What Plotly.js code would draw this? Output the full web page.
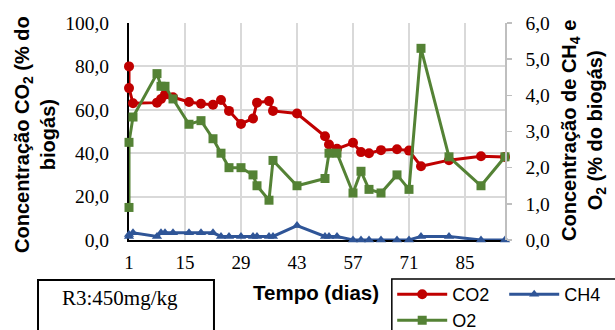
<!DOCTYPE html>
<html><head><meta charset="utf-8">
<script src="https://cdn.plot.ly/plotly-3.0.1.min.js"></script>
<style>html,body{margin:0;padding:0;background:#fff}#chart{width:615px;height:330px}</style>
</head><body><div id="chart"></div>
<script>
const days = [1, 1, 2, 8, 9, 10, 12, 16, 19, 22, 24, 26, 29, 32, 33, 36, 37, 43, 50, 51, 53, 57, 59, 61, 64, 68, 71, 74, 81, 89, 95];
const co2 = [80, 70, 63, 63.3, 65, 67, 65.8, 63.6, 62.8, 62.3, 64.5, 59.5, 53.5, 56, 63.3, 64, 59.5, 58.3, 47.8, 44, 42, 44.8, 40.5, 40, 41.4, 41.8, 41.2, 34, 36.8, 38.6, 38.3];
const ch4 = [0.1, 0.15, 0.2, 0.1, 0.2, 0.2, 0.2, 0.2, 0.2, 0.2, 0.1, 0.1, 0.1, 0.1, 0.1, 0.1, 0.1, 0.4, 0.1, 0.1, 0.1, 0, 0, 0, 0, 0, 0, 0.1, 0.1, 0, 0];
const o2 = [0.9, 2.7, 3.4, 4.6, 4.25, 4.25, 3.9, 3.2, 3.3, 2.8, 2.4, 2.0, 2.0, 1.8, 1.5, 1.1, 2.2, 1.5, 1.7, 2.4, 2.4, 1.3, 1.9, 1.4, 1.3, 1.8, 1.4, 5.3, 2.3, 1.5, 2.3];
const xTicks = [1, 15, 29, 43, 57, 71, 85];

const red = '#c00000', blue = '#2f5597', green = '#548235';
const serif = 'Liberation Serif, Times New Roman, serif';
const sans = 'Liberation Sans, Arial, sans-serif';

const traces = [
  {x: days, y: co2, name: 'CO2', mode: 'lines+markers', yaxis: 'y', legend: 'legend',
   line: {color: red, width: 3}, marker: {symbol: 'circle', size: 10, color: red}, cliponaxis: false},
  {x: days, y: ch4, name: 'CH4', mode: 'lines+markers', yaxis: 'y2', legend: 'legend',
   line: {color: blue, width: 3}, marker: {symbol: 'triangle-up', size: 9, color: blue}, cliponaxis: false},
  {x: days, y: o2, name: 'O2', mode: 'lines+markers', yaxis: 'y2', legend: 'legend2',
   line: {color: green, width: 3}, marker: {symbol: 'square', size: 9, color: green}, cliponaxis: false}
];

const layout = {
  width: 615, height: 330,
  margin: {l: 129, r: 110, t: 23, b: 90, autoexpand: false},
  paper_bgcolor: '#fff', plot_bgcolor: '#fff',
  separators: ', ',
  showlegend: true,
  xaxis: {
    range: [1, 95], tickmode: 'array', tickvals: xTicks, ticktext: xTicks.map(String),
    showgrid: true, gridcolor: '#d9d9d9', gridwidth: 2,
    showline: true, linecolor: '#000', linewidth: 2, ticks: '', zeroline: false,
    tickfont: {family: serif, size: 19, color: '#000'}, ticklabelstandoff: 4, layer: 'below traces'
  },
  yaxis: {
    range: [0, 100], dtick: 20, tickformat: '.1f',
    showgrid: true, gridcolor: '#d9d9d9', gridwidth: 2,
    showline: true, linecolor: '#000', linewidth: 2, ticks: '', zeroline: false,
    tickfont: {family: serif, size: 19.5, color: '#000'}, ticklabelstandoff: 14, layer: 'below traces'
  },
  yaxis2: {
    overlaying: 'y', side: 'right', range: [0, 6], dtick: 1, tickformat: '.1f',
    showgrid: false, showline: true, linecolor: '#bfbfbf', linewidth: 1.5,
    ticks: 'outside', ticklen: 5, tickcolor: '#bfbfbf', tickwidth: 1.5, zeroline: false,
    tickfont: {family: serif, size: 19.5, color: '#000'}, ticklabelstandoff: 10
  },
  legend: {orientation: 'h', x: 0.70, xanchor: 'left', y: -0.166, yanchor: 'top',
    bgcolor: 'rgba(0,0,0,0)', borderwidth: 0, itemwidth: 50, entrywidth: 47, entrywidthmode: 'pixels',
    font: {family: sans, size: 18, color: '#000'}, itemclick: false},
  legend2: {orientation: 'h', x: 0.70, xanchor: 'left', y: -0.286, yanchor: 'top',
    bgcolor: 'rgba(0,0,0,0)', borderwidth: 0, itemwidth: 50,
    font: {family: sans, size: 18, color: '#000'}, itemclick: false},
  shapes: [
    {type: 'rect', xref: 'paper', yref: 'paper', x0: 0.699, x1: 1.4, y0: -0.18, y1: -0.6,
     line: {color: '#000', width: 1.5}, fillcolor: 'rgba(0,0,0,0)'},
    {type: 'rect', xref: 'paper', yref: 'paper', x0: -0.242, x1: 0.226, y0: -0.184, y1: -0.6,
     line: {color: '#000', width: 2}, fillcolor: 'rgba(0,0,0,0)'}
  ],
  annotations: [
    {text: '<b>Concentração CO<sub>2</sub> (% do<br>biogás)</b>', textangle: -90,
     xref: 'paper', yref: 'paper', x: -0.25, y: 0.484, xanchor: 'center', yanchor: 'middle',
     showarrow: false, font: {family: sans, size: 20, color: '#000'}},
    {text: '<b>Concentração de CH<sub>4</sub> e<br>O<sub>2</sub> (% do biogás)</b>', textangle: -90,
     xref: 'paper', yref: 'paper', x: 1.21, y: 0.507, xanchor: 'center', yanchor: 'middle',
     showarrow: false, font: {family: sans, size: 20, color: '#000'}},
    {text: '<b>Tempo (dias)</b>', xref: 'paper', yref: 'paper', x: 0.497, y: -0.244,
     xanchor: 'center', yanchor: 'middle', showarrow: false, font: {family: sans, size: 20.5, color: '#000'}},
    {text: 'R3:450mg/kg', xref: 'paper', yref: 'paper', x: -0.024, y: -0.267,
     xanchor: 'center', yanchor: 'middle', showarrow: false, font: {family: serif, size: 21, color: '#000'}}
  ]
};

Plotly.newPlot('chart', traces, layout, {displayModeBar: false, staticPlot: true});
</script></body></html>
